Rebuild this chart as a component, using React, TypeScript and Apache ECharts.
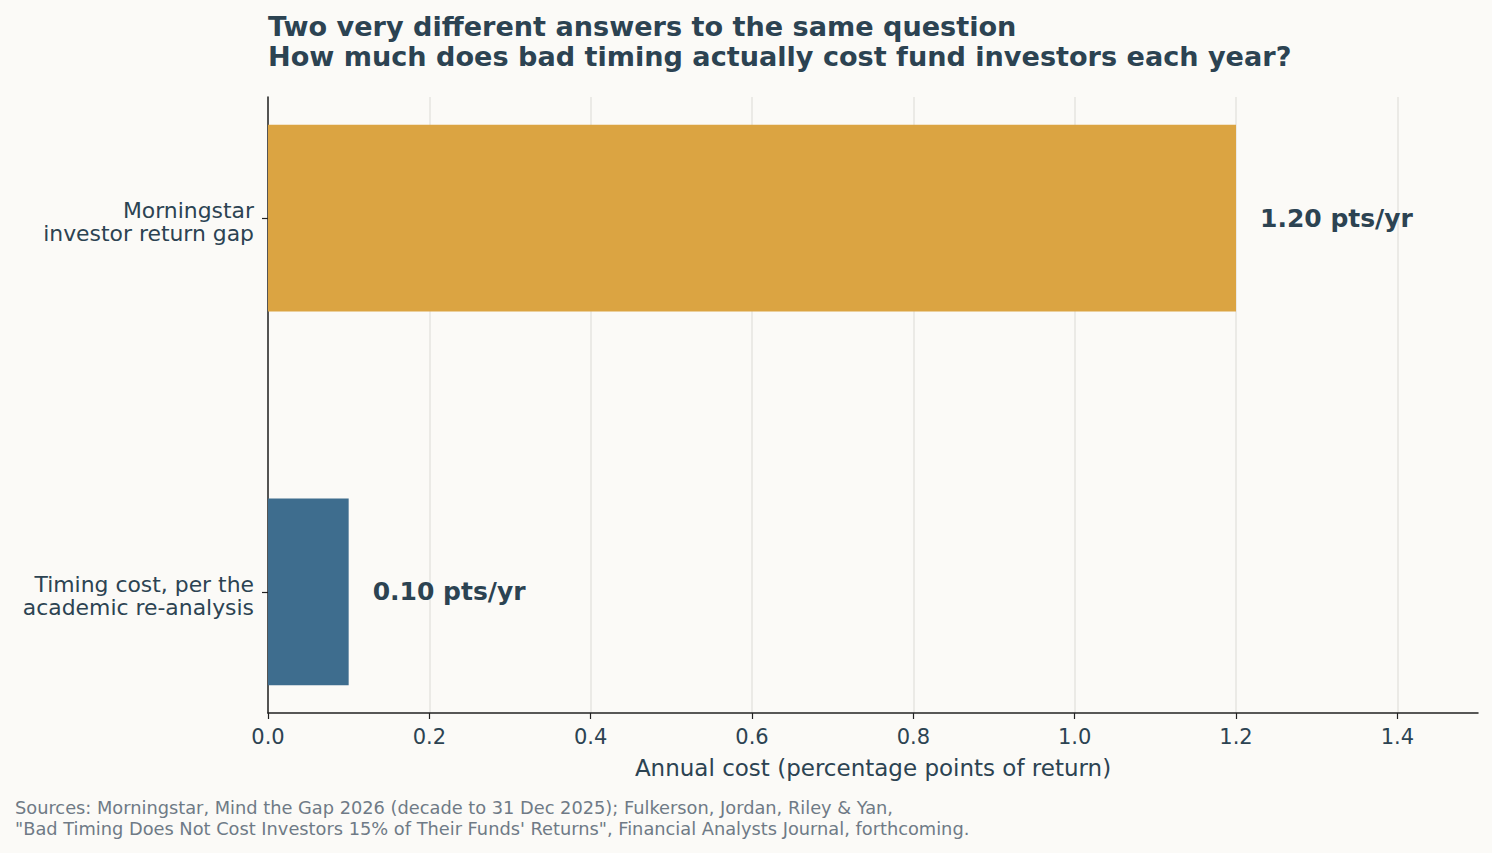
import React, { useEffect, useRef } from "react";
import * as echarts from "echarts";

const categories: string[] = [
  "Morningstar\ninvestor return gap",
  "Timing cost, per the\nacademic re-analysis",
];
const values: number[] = [1.2, 0.1];
const barColors: string[] = ["#dba442", "#3e6d8e"];
const xTicks: number[] = [0, 0.2, 0.4, 0.6, 0.8, 1.0, 1.2, 1.4];
const titleLines: string[] = [
  "Two very different answers to the same question",
  "How much does bad timing actually cost fund investors each year?",
];
const sourceLines: string[] = [
  "Sources: Morningstar, Mind the Gap 2026 (decade to 31 Dec 2025); Fulkerson, Jordan, Riley & Yan,",
  "\"Bad Timing Does Not Cost Investors 15% of Their Funds' Returns\", Financial Analysts Journal, forthcoming.",
];

const FONT = "DejaVu Sans";
const TEXT = "#2c4352";

export default function App() {
  const ref = useRef<HTMLDivElement>(null);
  useEffect(() => {
    document.body.style.margin = "0";
    const chart = echarts.init(ref.current!, null, { renderer: "svg" });
    const data = values.map((v, i) => [v, i]);
    const catPos = categories.map((_, i) => i);
    chart.setOption({
      animation: false,
      backgroundColor: "#fbfaf7",
      textStyle: { fontFamily: FONT },
      title: {
        text: titleLines.join("\n"),
        left: 268,
        top: 11,
        padding: 0,
        textStyle: {
          fontFamily: FONT,
          fontWeight: "bold",
          fontSize: 27.1,
          lineHeight: 30,
          color: TEXT,
        },
      },
      graphic: [
        {
          type: "text",
          left: 15,
          top: 797,
          style: {
            text: sourceLines.join("\n"),
            font: `17.8px "${FONT}"`,
            lineHeight: 21,
            fill: "#6f7a86",
          },
        },
      ],
      grid: { left: 268, right: 14, top: 97, bottom: 140, containLabel: false },
      xAxis: {
        type: "value",
        min: 0,
        max: 1.5,
        interval: 0.2,
        name: "Annual cost (percentage points of return)",
        nameLocation: "middle",
        nameGap: 43,
        nameTextStyle: { fontFamily: FONT, fontSize: 23, color: TEXT },
        axisLine: { show: true, onZero: false, lineStyle: { color: "#222", width: 1.5 } },
        axisTick: {
          show: true,
          length: 6,
          lineStyle: { color: "#222", width: 1.2 },
          customValues: xTicks,
        },
        axisLabel: {
          fontFamily: FONT,
          fontSize: 21,
          color: TEXT,
          margin: 13,
          customValues: xTicks,
          formatter: (v: number) => v.toFixed(1),
        },
        splitLine: { show: true, lineStyle: { color: "#e6e5e1", width: 1.5 } },
      },
      yAxis: {
        type: "value",
        min: -0.324,
        max: 1.324,
        inverse: true,
        axisLine: { show: true, onZero: false, lineStyle: { color: "#222", width: 1.5 } },
        axisTick: {
          show: true,
          length: 6,
          lineStyle: { color: "#222", width: 1.2 },
          customValues: catPos,
        },
        axisLabel: {
          fontFamily: FONT,
          fontSize: 21.9,
          lineHeight: 23,
          color: TEXT,
          margin: 14,
          align: "right",
          customValues: catPos.map((p) => p + 0.011),
          formatter: (v: number) => categories[Math.round(v)] ?? "",
        },
        splitLine: { show: false },
      },
      series: [
        {
          type: "custom",
          data,
          encode: { x: 0, y: 1 },
          renderItem: (params: any, api: any) => {
            const v = api.value(0);
            const y = api.value(1);
            const start = api.coord([0, y]);
            const end = api.coord([v, y]);
            const h = Math.abs(api.size([0, 0.5])[1]);
            const idx = params.dataIndex;
            return {
              type: "group",
              children: [
                {
                  type: "rect",
                  shape: { x: start[0], y: start[1] - h / 2, width: end[0] - start[0], height: h },
                  style: { fill: barColors[idx] },
                },
                {
                  type: "text",
                  x: end[0] + 24,
                  y: end[1],
                  style: {
                    text: `${v.toFixed(2)} pts/yr`,
                    font: `bold 25px "${FONT}"`,
                    fill: TEXT,
                    verticalAlign: "middle",
                    align: "left",
                  },
                },
              ],
            };
          },
        },
      ],
    });
    return () => chart.dispose();
  }, []);
  return <div ref={ref} style={{ width: 1492, height: 853 }} />;
}
